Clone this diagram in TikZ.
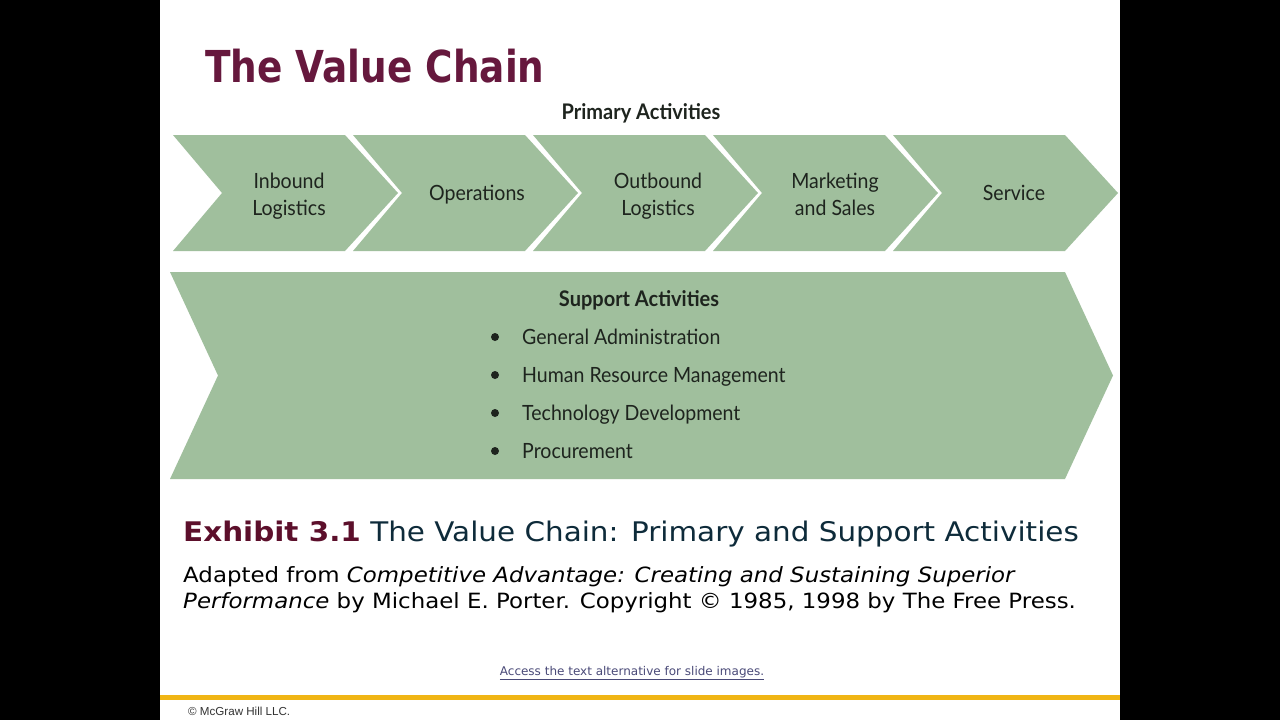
\documentclass[tikz,border=0pt]{standalone}
\usepackage{fontspec}
\setmainfont{DejaVu Sans}
\newfontfamily\chevfont[FakeStretch=0.93]{Lato}
\newfontfamily\titlefont[FakeStretch=0.85]{DejaVu Sans}
\newfontfamily\verdfont[FakeStretch=1.09]{DejaVu Sans}
\newfontfamily\footfont{Liberation Sans}
\definecolor{chevgreen}{HTML}{A0BF9D}
\definecolor{titlered}{HTML}{66183D}
\definecolor{exred}{HTML}{5C0F2B}
\definecolor{exteal}{HTML}{0E2B3A}
\definecolor{darktext}{HTML}{1E241E}
\definecolor{linkcol}{HTML}{4A4A78}
\definecolor{goldline}{HTML}{F0B514}
\begin{document}
\begin{tikzpicture}[x=1pt,y=-1pt,
  chev/.style={fill=chevgreen},
  lbl/.style={font=\chevfont\fontsize{21}{27}\selectfont, align=center, text=darktext, inner sep=0pt},
  head/.style={font=\chevfont\bfseries\fontsize{21.5}{24}\selectfont, text=darktext, inner sep=0pt, anchor=base},
  item/.style={font=\chevfont\fontsize{21}{24}\selectfont, text=darktext, anchor=base west, inner sep=0pt},
  plain/.style={inner sep=0pt, anchor=base west}]
\fill[black] (0,0) rectangle (1280,720);
\fill[white] (160,0) rectangle (1120,720);
% title
\node[plain, font=\titlefont\bfseries\fontsize{44}{50}\selectfont, text=titlered] (title) at (205,82) {The Value Chain};
\node[head] (prim) at (641,119) {Primary Activities};
% primary chevrons
\foreach \i in {0,...,4}{
  \fill[chev] ({173+180*\i},135) -- ++(172,0) -- ++(53,58) -- ++(-53,58) -- ++(-172,0) -- ++(49,-58) -- cycle;
}
\node[lbl] (inb) at (289,196) {Inbound\\Logistics};
\node[lbl] (ops) at (477,195) {Operations};
\node[lbl] (outb) at (658,196) {Outbound\\Logistics};
\node[lbl] (mkt) at (835,194) {Marketing\\and Sales};
\node[lbl] (srv) at (1014,193) {Service};
% support chevron
\fill[chev] (170,272) -- (1065,272) -- (1113,375.5) -- (1065,479) -- (170,479) -- (218,375.5) -- cycle;
\node[head] (supp) at (639,306) {Support Activities};
\foreach \y/\t/\n in {337/General Administration/ga, 375/Human Resource Management/hr, 413/Technology Development/td, 451/Procurement/pr}{
  \fill[darktext] (495,\y) circle (4);
  \node[item] (\n) at (522,\y+7) {\t};
}
% exhibit caption
\node[plain, font=\verdfont\fontsize{27}{30}\selectfont] (exh) at (183,541) {\textcolor{exred}{\bfseries Exhibit 3.1} \textcolor{exteal}{The Value Chain: Primary and Support Activities}};
\node[plain, font=\verdfont\fontsize{21}{26}\selectfont, text=black] (src1) at (183,582) {Adapted from \textit{Competitive Advantage: Creating and Sustaining Superior}};
\node[plain, font=\verdfont\fontsize{21}{26}\selectfont, text=black] (src2) at (183,608) {\textit{Performance} by Michael E. Porter. Copyright © 1985, 1998 by The Free Press.};
% link
\node[inner sep=0pt, font=\fontsize{12}{14}\selectfont, text=linkcol] (link) at (632,673) {\underline{Access the text alternative for slide images.}};
% footer
\fill[goldline] (160,694.5) rectangle (1120,700);
\node[plain, font=\footfont\fontsize{11.6}{13}\selectfont, text=black!80] (copy) at (188,715) {© McGraw Hill LLC.};
\end{tikzpicture}
\end{document}
